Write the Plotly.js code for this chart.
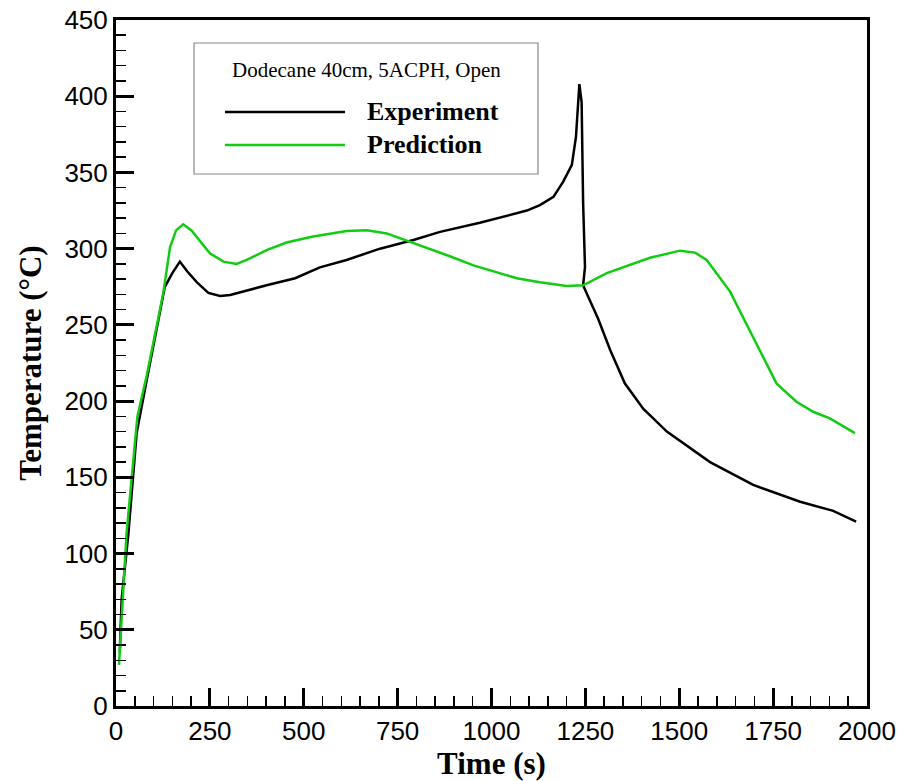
<!DOCTYPE html>
<html>
<head>
<meta charset="utf-8">
<script src="https://cdn.plot.ly/plotly-3.0.1.min.js"></script>
<style>html,body{margin:0;padding:0;background:#fff;}#chart{width:899px;height:781px;}</style>
</head>
<body>
<div id="chart"></div>
<script>
const legendTitle = "Dodecane 40cm, 5ACPH, Open";
const seriesNames = ["Experiment", "Prediction"];

const expTime = [10, 15, 33, 55, 82, 130, 150, 170, 190, 215, 246, 277, 304, 339, 401, 477, 543, 614, 703, 792, 863, 969, 1094, 1129, 1165, 1191, 1214, 1225, 1231, 1234, 1240, 1244, 1249, 1244, 1262, 1284, 1316, 1355, 1404, 1467, 1582, 1697, 1822, 1910, 1971];
const expTemp = [35, 70, 113, 179, 214, 275, 284, 291.5, 285, 278, 271, 269, 269.6, 272, 276, 280.6, 287.7, 292.6, 300, 305.7, 311, 317, 325, 328.6, 334, 344, 355, 373.5, 395, 408, 396, 330, 288, 276, 266, 254, 233.5, 211.7, 195, 180, 160, 145, 134, 128, 121];

const predTime = [8, 28, 57, 82, 126, 144, 160, 179, 201, 250, 286, 321, 348, 401, 454, 525, 614, 668, 721, 783, 836, 889, 952, 1067, 1129, 1200, 1244, 1307, 1422, 1502, 1542, 1573, 1635, 1697, 1759, 1812, 1857, 1901, 1968];
const predTemp = [27, 113, 190, 217, 271, 301, 312, 316, 312, 297, 291.5, 290, 292.6, 299, 304, 308, 311.6, 312, 310, 304.6, 300, 295, 289, 280.6, 278, 275.5, 276, 284, 294, 298.7, 297.4, 292.6, 272, 241.5, 211.6, 199.6, 193, 188.7, 179];

const xTickVals = [0, 250, 500, 750, 1000, 1250, 1500, 1750, 2000];
const yTickVals = [0, 50, 100, 150, 200, 250, 300, 350, 400, 450];

const colors = ["#000000", "#11cc11"];

const traces = [
  {x: expTime, y: expTemp, name: seriesNames[0], mode: "lines", line: {color: colors[0], width: 2.5}, showlegend: false},
  {x: predTime, y: predTemp, name: seriesNames[1], mode: "lines", line: {color: colors[1], width: 2.5}, showlegend: false}
];

const serif = "Liberation Serif, Times New Roman, serif";
const sans = "Liberation Sans, Arial, sans-serif";

const layout = {
  width: 899, height: 781,
  margin: {l: 116, r: 32, t: 20, b: 75},
  paper_bgcolor: "#fff", plot_bgcolor: "#fff",
  showlegend: false,
  xaxis: {
    range: [0, 2000], tickvals: xTickVals, ticktext: xTickVals.map(String),
    ticks: "inside", ticklen: 18, tickwidth: 3, tickcolor: "#000",
    minor: {dtick: 50, ticks: "inside", ticklen: 10, tickwidth: 1.5, tickcolor: "#000", showgrid: false},
    showline: true, linewidth: 3, linecolor: "#000", mirror: true,
    showgrid: false, zeroline: false,
    tickfont: {family: sans, size: 26, color: "#000"},
    title: {text: "<b>Time (s)</b>", font: {family: serif, size: 31, color: "#000"}, standoff: 12}
  },
  yaxis: {
    range: [0, 450], tickvals: yTickVals, ticktext: yTickVals.map(String),
    ticks: "inside", ticklen: 18, tickwidth: 3, tickcolor: "#000",
    minor: {dtick: 10, ticks: "inside", ticklen: 10, tickwidth: 1.5, tickcolor: "#000", showgrid: false},
    showline: true, linewidth: 3, linecolor: "#000", mirror: true,
    showgrid: false, zeroline: false,
    tickfont: {family: sans, size: 26, color: "#000"},
    title: {text: "<b>Temperature (°C)</b>", font: {family: serif, size: 31, color: "#000"}, standoff: 14}
  },
  shapes: [
    {type: "rect", xref: "paper", yref: "paper", x0: 0.1039, x1: 0.5619, y0: 0.7755, y1: 0.9665, line: {color: "#888", width: 1.2}, fillcolor: "#fff", layer: "above"},
    {type: "line", xref: "paper", yref: "paper", x0: 0.1451, x1: 0.3049, y0: 0.8659, y1: 0.8659, line: {color: colors[0], width: 2.5}, layer: "above"},
    {type: "line", xref: "paper", yref: "paper", x0: 0.1451, x1: 0.3049, y0: 0.8178, y1: 0.8178, line: {color: colors[1], width: 2.5}, layer: "above"}
  ],
  annotations: [
    {xref: "paper", yref: "paper", x: 0.3342, y: 0.9271, xanchor: "center", yanchor: "middle", text: legendTitle, showarrow: false, font: {family: serif, size: 21, color: "#000"}},
    {xref: "paper", yref: "paper", x: 0.3316, y: 0.8659, xanchor: "left", yanchor: "middle", text: "<b>" + seriesNames[0] + "</b>", showarrow: false, font: {family: serif, size: 26, color: "#000"}},
    {xref: "paper", yref: "paper", x: 0.3316, y: 0.8178, xanchor: "left", yanchor: "middle", text: "<b>" + seriesNames[1] + "</b>", showarrow: false, font: {family: serif, size: 26, color: "#000"}}
  ]
};

Plotly.newPlot("chart", traces, layout, {displayModeBar: false, staticPlot: true});
</script>
</body>
</html>
